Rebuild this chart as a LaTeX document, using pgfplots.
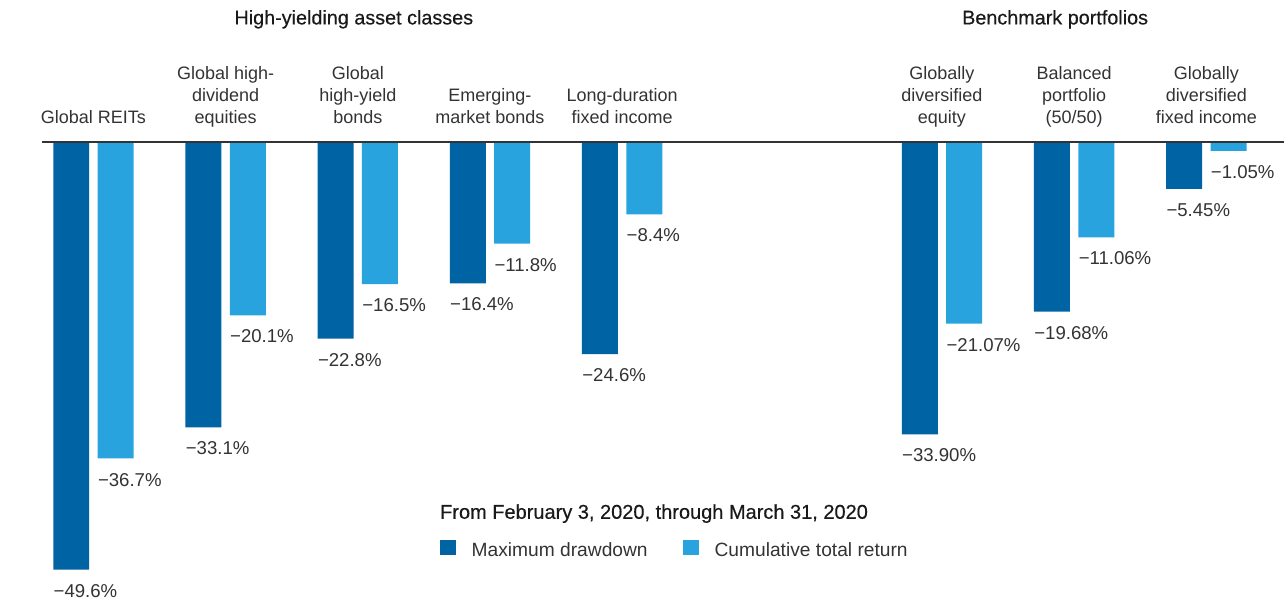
\documentclass[border=0pt]{standalone}
\usepackage{fontspec}
\setmainfont{Liberation Sans}
\newfontfamily\medfont[FakeBold=0.4]{Liberation Sans}
\usepackage{pgfplots}
\pgfplotsset{compat=1.18}
\definecolor{dark}{HTML}{0063A3}
\definecolor{light}{HTML}{29A3DD}
\definecolor{txt}{HTML}{333333}
\newcommand{\lab}{\fontsize{9}{11}\selectfont}
\newcommand{\leg}{\fontsize{9.6}{11}\selectfont}
\newcommand{\val}{\fontsize{9.3}{11}\selectfont}
\pgfplotsset{
  sqleg/.style={legend image code/.code={\fill[##1] (0pt,-2pt) rectangle (8pt,5.5pt);}},
  valnode/.style={every node near coord/.append style={anchor=base west, xshift=#1, yshift=-13.8pt, inner sep=0pt, font=\val, text=txt}},
}
\begin{document}
\begin{tikzpicture}
\begin{axis}[
  width=642.5pt, height=300pt, scale only axis,
  xmin=-0.707, xmax=9.010, ymin=-53.07, ymax=16.45,
  hide axis, clip=false,
  legend style={draw=none, fill=none, at={(axis cs:2.62,-47.32)}, anchor=west,
    inner sep=0pt, outer sep=0pt, font=\leg, text=txt,
    nodes={inner sep=0pt},
    /tikz/every odd column/.append style={column sep=8pt},
    /tikz/every even column/.append style={column sep=17.5pt}},
  legend columns=2, legend cell align=left,
]
\path (rel axis cs:0,0) rectangle (rel axis cs:1,1);
\addplot[ybar, bar width=18pt, bar shift=-11.1pt, fill=dark, draw=none,
  point meta=explicit symbolic, nodes near coords, valnode=-20.1pt, sqleg]
coordinates {
 (0,-49.6) [−49.6\%]
 (1,-33.1) [−33.1\%]
 (2,-22.8) [−22.8\%]
 (3,-16.4) [−16.4\%]
 (4,-24.6) [−24.6\%]
 (6.42,-33.90) [−33.90\%]
 (7.42,-19.68) [−19.68\%]
 (8.42,-5.45) [−5.45\%]
};
\addlegendentry{Maximum drawdown}
\addplot[ybar, bar width=18pt, bar shift=11.1pt, fill=light, draw=none,
  point meta=explicit symbolic, nodes near coords, valnode=2.1pt, sqleg]
coordinates {
 (0,-36.7) [−36.7\%]
 (1,-20.1) [−20.1\%]
 (2,-16.5) [−16.5\%]
 (3,-11.8) [−11.8\%]
 (4,-8.4) [−8.4\%]
 (6.42,-21.07) [−21.07\%]
 (7.42,-11.06) [−11.06\%]
 (8.42,-1.05) [−1.05\%]
};
\addlegendentry{Cumulative total return}
\addplot[sharp plot, forget plot, draw=txt, line width=0.7pt] coordinates {(-0.39,0) (9.01,0)};

% titles
\node[font=\medfont\fontsize{9.9}{11}\selectfont, text=black!90, anchor=base, inner sep=0pt] at (axis cs:1.97,13.62) {High-yielding asset classes};
\node[font=\medfont\fontsize{9.9}{11}\selectfont, text=black!90, anchor=base, inner sep=0pt] at (axis cs:7.276,13.62) {Benchmark portfolios};
\node[font=\medfont\fontsize{10}{11}\selectfont, text=black!90, anchor=base west, inner sep=0pt] at (axis cs:2.62,-43.69) {From February 3, 2020, through March 31, 2020};

% category labels
\tikzset{cat/.style={font=\lab, text=txt, align=center, anchor=south, inner sep=0pt}}
\node[cat] at (axis cs:0,1.32) {Global REITs\strut};
\node[cat] at (axis cs:1,1.32) {Global high-\strut\\dividend\strut\\equities\strut};
\node[cat] at (axis cs:2,1.32) {Global\strut\\high-yield\strut\\bonds\strut};
\node[cat] at (axis cs:3,1.32) {Emerging-\strut\\market bonds\strut};
\node[cat] at (axis cs:4,1.32) {Long-duration\strut\\fixed income\strut};
\node[cat] at (axis cs:6.42,1.32) {Globally\strut\\diversified\strut\\equity\strut};
\node[cat] at (axis cs:7.42,1.32) {Balanced\strut\\portfolio\strut\\(50/50)\strut};
\node[cat] at (axis cs:8.42,1.32) {Globally\strut\\diversified\strut\\fixed income\strut};
\end{axis}
\end{tikzpicture}
\end{document}
